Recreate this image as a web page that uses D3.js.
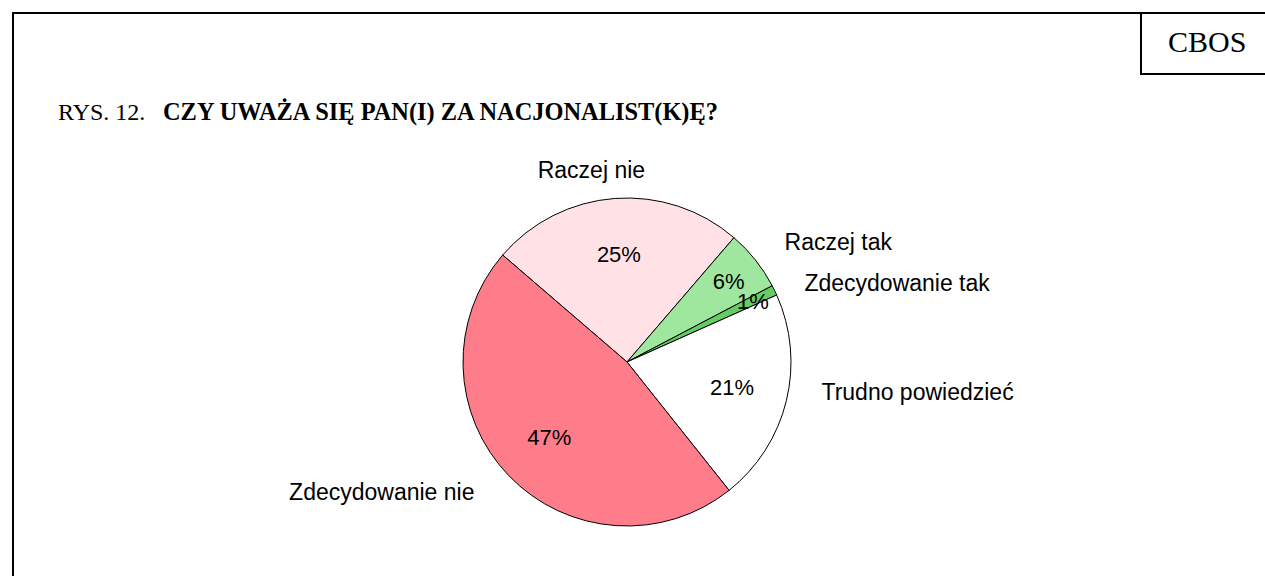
<!DOCTYPE html>
<html>
<head>
<meta charset="utf-8">
<script src="https://cdn.jsdelivr.net/npm/d3@7"></script>
<style>
  body { margin: 0; background: #fff; }
  svg { display: block; }
</style>
</head>
<body>
<svg id="chart" width="1265" height="576"></svg>
<script>
// answers, going clockwise from the top-left edge of "Raczej nie"
const categories = ['Raczej nie', 'Raczej tak', 'Zdecydowanie tak', 'Trudno powiedzieć', 'Zdecydowanie nie'];
const values = [25, 6, 1, 21, 47];
const colors = ['#ffe1e6', '#9fe69f', '#66cc66', '#ffffff', '#ff7c8a'];

// small hand nudges for the outside labels (layout only)
const labelNudge = [[-21, 2], [5, 1], [2, 6], [5, -16], [-12, -5]];

const svg = d3.select('#chart');
const W = 1265, H = 576;
const serif = '"Liberation Serif", "Times New Roman", serif';

// frame
svg.append('path')
  .attr('d', `M13,${H + 5} V13 H${W + 5}`)
  .attr('fill', 'none').attr('stroke', '#000').attr('stroke-width', 2);
svg.append('path')
  .attr('d', `M1141,13 V74 H${W + 5}`)
  .attr('fill', 'none').attr('stroke', '#000').attr('stroke-width', 2);
svg.append('text')
  .attr('x', 1168).attr('y', 52)
  .style('font-family', serif)
  .style('font-size', '30px')
  .text('CBOS');

// title
svg.append('text')
  .attr('x', 58).attr('y', 120)
  .style('font-family', serif)
  .style('font-size', '24px')
  .text('RYS. 12.');
svg.append('text')
  .attr('x', 163).attr('y', 120)
  .style('font-family', serif)
  .style('font-size', '24.4px')
  .style('font-weight', 'bold')
  .text('CZY UWAŻA SIĘ PAN(I) ZA NACJONALIST(K)Ę?');

// pie
const cx = 627, cy = 362, R = 164;
const start = -49.3 * Math.PI / 180;

const pie = d3.pie().sort(null)
  .startAngle(start).endAngle(start + 2 * Math.PI)
  .value(d => d.value);
const data = categories.map((c, i) => ({ name: c, value: values[i], color: colors[i], i }));
const arcs = pie(data);

const arc = d3.arc().innerRadius(0).outerRadius(R);
const g = svg.append('g').attr('transform', `translate(${cx},${cy})`);

g.selectAll('path')
  .data(arcs)
  .join('path')
  .attr('d', arc)
  .attr('fill', d => d.data.color)
  .attr('stroke', '#000')
  .attr('stroke-width', 1);

// small slices get their % pushed toward the rim
const labelR = d3.scaleLinear().domain([1, 6, 20]).range([140, 130, 108]).clamp(true);
const font = '"Liberation Sans", Arial, sans-serif';

g.selectAll('text.pct')
  .data(arcs)
  .join('text')
  .attr('class', 'pct')
  .attr('transform', d => {
    const a = (d.startAngle + d.endAngle) / 2;
    const r = labelR(d.data.value);
    return `translate(${r * Math.sin(a)},${-r * Math.cos(a)})`;
  })
  .attr('text-anchor', 'middle')
  .attr('dy', '0.35em')
  .style('font-family', font)
  .style('font-size', '22px')
  .text(d => d.data.value + '%');

const outR = R + 31;
g.selectAll('text.cat')
  .data(arcs)
  .join('text')
  .attr('class', 'cat')
  .attr('transform', d => {
    const a = (d.startAngle + d.endAngle) / 2;
    const n = labelNudge[d.data.i];
    return `translate(${outR * Math.sin(a) + n[0]},${-outR * Math.cos(a) + n[1]})`;
  })
  .attr('text-anchor', d => {
    const s = Math.sin((d.startAngle + d.endAngle) / 2);
    return Math.abs(s) < 0.3 ? 'middle' : (s > 0 ? 'start' : 'end');
  })
  .attr('dy', '0.35em')
  .style('font-family', font)
  .style('font-size', '23px')
  .text(d => d.data.name);
</script>
</body>
</html>
